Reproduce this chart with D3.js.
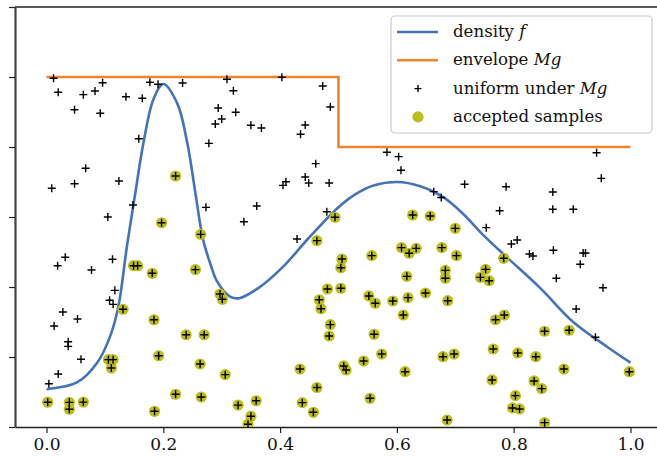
<!DOCTYPE html>
<html>
<head>
<meta charset="utf-8">
<script src="https://cdn.jsdelivr.net/npm/d3@7"></script>
<style>
  body { margin: 0; background: white; }
  svg { display: block; }
</style>
</head>
<body>
<svg id="graph"></svg>
<script>
"use strict";

// densite f
var density_x = [0, 0.053, 0.087, 0.110, 0.123, 0.138, 0.152, 0.166, 0.183, 0.200, 0.224, 0.241, 0.255, 0.268, 0.281, 0.292, 0.315, 0.330, 0.362, 0.404, 0.449, 0.500, 0.530, 0.560, 0.600, 0.640, 0.680, 0.714, 0.748, 0.789, 0.846, 0.902, 0.961, 1.0];
var density_y = [0.27, 0.32, 0.46, 0.66, 0.86, 1.30, 1.67, 2.03, 2.34, 2.45, 2.31, 2.03, 1.67, 1.34, 1.16, 1.04, 0.93, 0.92, 0.99, 1.14, 1.35, 1.57, 1.665, 1.725, 1.75, 1.72, 1.64, 1.52, 1.37, 1.21, 0.99, 0.75, 0.57, 0.46];

// enveloppe Mg (en escalier)
var envelope_x = [0, 0.5, 0.5, 1.0];
var envelope_y = [2.5, 2.5, 2.0, 2.0];

// points uniformes rejetes
var rejected_x = [0.012, 0.020, 0.063, 0.083, 0.096, 0.048, 0.092, 0.136, 0.164, 0.177, 0.191, 0.233, 0.309, 0.294, 0.300, 0.289, 0.278, 0.158, 0.067, 0.048, 0.009, 0.124, 0.148, 0.105, 0.273,
  0.320, 0.324, 0.350, 0.368, 0.403, 0.473, 0.486, 0.443, 0.435, 0.461, 0.443, 0.449, 0.484, 0.410, 0.405, 0.360, 0.338, 0.480, 0.583, 0.603, 0.607, 0.663, 0.676, 0.429,
  0.942, 0.950, 0.716, 0.787, 0.867, 0.776, 0.867, 0.902, 0.753, 0.796, 0.806, 0.827, 0.833, 0.868, 0.919, 0.923, 0.914, 0.873, 0.953, 0.907, 0.940,
  0.019, 0.032, 0.077, 0.113, 0.117, 0.108, 0.114, 0.028, 0.053, 0.013, 0.037, 0.037, 0.059, 0.020, 0.004];
var rejected_y = [2.491, 2.391, 2.374, 2.400, 2.459, 2.266, 2.241, 2.359, 2.348, 2.462, 2.448, 2.457, 2.484, 2.279, 2.200, 2.164, 2.026, 2.059, 1.848, 1.738, 1.705, 1.757, 1.586, 1.500, 1.569,
  2.402, 2.248, 2.155, 2.136, 2.498, 2.436, 2.286, 2.157, 2.091, 1.881, 1.786, 1.743, 1.743, 1.752, 1.726, 1.579, 1.466, 1.538, 1.962, 1.931, 1.834, 1.681, 1.639, 1.343,
  1.959, 1.776, 1.734, 1.716, 1.679, 1.545, 1.555, 1.555, 1.424, 1.307, 1.336, 1.236, 1.221, 1.262, 1.243, 1.243, 1.162, 1.062, 0.995, 0.843, 0.641,
  1.152, 1.212, 1.121, 1.198, 0.976, 0.905, 0.876, 0.821, 0.771, 0.721, 0.609, 0.576, 0.484, 0.379, 0.309];

// echantillons acceptes
var accepted_x = [0.221, 0.197, 0.264, 0.494, 0.627, 0.657, 0.463, 0.700, 0.677, 0.702, 0.783, 0.683, 0.683, 0.752, 0.743, 0.758, 0.687, 0.769, 0.784, 0.853, 0.895, 0.765, 0.807, 0.838,
  0.679, 0.698, 0.886, 0.998, 0.763, 0.835, 0.848, 0.803, 0.798, 0.810, 0.686, 0.853, 0.149, 0.156, 0.181, 0.255, 0.131, 0.184, 0.297, 0.301, 0.239, 0.270, 0.192,
  0.106, 0.114, 0.111, 0.263, 0.306, 0.221, 0.265, 0.002, 0.039, 0.039, 0.063, 0.185, 0.506, 0.504, 0.557, 0.608, 0.621, 0.633, 0.617, 0.481, 0.504, 0.467, 0.470,
  0.552, 0.563, 0.593, 0.619, 0.649, 0.611, 0.486, 0.484, 0.561, 0.574, 0.543, 0.509, 0.513, 0.614, 0.434, 0.463, 0.438, 0.457, 0.359, 0.328, 0.350, 0.345, 0.554];
var accepted_y = [1.793, 1.459, 1.376, 1.498, 1.514, 1.507, 1.331, 1.419, 1.281, 1.224, 1.205, 1.119, 1.062, 1.126, 1.069, 1.045, 0.902, 0.766, 0.800, 0.684, 0.691, 0.557, 0.529, 0.502,
  0.502, 0.521, 0.414, 0.395, 0.336, 0.329, 0.274, 0.224, 0.136, 0.129, 0.050, 0.031, 1.152, 1.152, 1.098, 1.124, 0.841, 0.766, 0.950, 0.912, 0.659, 0.659, 0.509,
  0.481, 0.481, 0.421, 0.450, 0.374, 0.234, 0.214, 0.177, 0.176, 0.127, 0.178, 0.112, 1.200, 1.138, 1.224, 1.281, 1.241, 1.276, 1.076, 0.986, 0.991, 0.909, 0.845,
  0.936, 0.884, 0.900, 0.924, 0.957, 0.800, 0.731, 0.650, 0.662, 0.521, 0.471, 0.436, 0.407, 0.395, 0.414, 0.282, 0.174, 0.105, 0.187, 0.156, 0.077, 0.020, 0.205];

var x_ticks = [0, 0.2, 0.4, 0.6, 0.8, 1.0];
var y_ticks = [0, 0.5, 1.0, 1.5, 2.0, 2.5, 3.0];

var legend_labels = [["density ", "f"], ["envelope ", "Mg"], ["uniform under ", "Mg"], ["accepted samples", ""]];

var BLUE = "#4673b3", ORANGE = "#ee8430", OLIVE = "#bcbd22";
var FONT = "'DejaVu Serif', serif";

var zip = function(xs, ys) {
  return xs.map(function(x, i) { return {x: x, y: ys[i]}; });
};

var svg = d3.select("#graph").attr("width", 657).attr("height", 457);
svg.margin = {top: 7, left: 15, bottom: 30, right: -5};

var x = d3.scaleLinear().domain([-0.054, 1.054]).range([svg.margin.left, 662]);
var y = d3.scaleLinear().domain([0, 3]).range([427, svg.margin.top]);

// axes
svg.append("g")
  .attr("transform", "translate(0," + y(0) + ")")
  .call(d3.axisBottom(x).tickValues(x_ticks).tickFormat(d3.format(".1f")).tickSize(6).tickPadding(5).tickSizeOuter(0))
  .call(function(g) {
    g.attr("font-family", FONT).attr("font-size", 17);
    g.select(".domain").attr("stroke", "#222").attr("stroke-width", 1.5);
    g.selectAll(".tick line").attr("stroke", "#222").attr("stroke-width", 1.2);
    g.selectAll("text").attr("fill", "#111");
  });

svg.append("g")
  .attr("transform", "translate(" + x.range()[0] + ",0)")
  .call(d3.axisLeft(y).tickValues(y_ticks).tickFormat("").tickSize(6).tickSizeOuter(0))
  .call(function(g) {
    g.select(".domain").attr("stroke", "#444").attr("stroke-width", 2.2);
    g.selectAll(".tick line").attr("stroke", "#222").attr("stroke-width", 1.2);
  });

// cadre du haut
svg.append("line")
  .attr("x1", x.range()[0]).attr("x2", x.range()[1])
  .attr("y1", y(3)).attr("y2", y(3))
  .attr("stroke", "#222").attr("stroke-width", 1.5);

svg.append("clipPath").attr("id", "clip").append("rect")
  .attr("x", x.range()[0]).attr("y", y(3))
  .attr("width", x.range()[1] - x.range()[0]).attr("height", y(0) - y(3));

var plot = svg.append("g").attr("clip-path", "url(#clip)");

plot.append("path")
  .datum(zip(density_x, density_y))
  .attr("fill", "none").attr("stroke", BLUE).attr("stroke-width", 2.6)
  .attr("d", d3.line().x(d => x(d.x)).y(d => y(d.y)).curve(d3.curveCatmullRom.alpha(0.5)));

plot.append("path")
  .datum(zip(envelope_x, envelope_y))
  .attr("fill", "none").attr("stroke", ORANGE).attr("stroke-width", 2.6)
  .attr("d", d3.line().x(d => x(d.x)).y(d => y(d.y)));

plot.append("g").selectAll("circle")
  .data(zip(accepted_x, accepted_y))
  .enter().append("circle")
  .attr("cx", d => x(d.x)).attr("cy", d => y(d.y)).attr("r", 5.6)
  .attr("fill", OLIVE);

var plus = "M-4,0H4M0,-4V4";
plot.append("g").selectAll("path")
  .data(zip(rejected_x, rejected_y).concat(zip(accepted_x, accepted_y)))
  .enter().append("path")
  .attr("transform", d => "translate(" + x(d.x) + "," + y(d.y) + ")")
  .attr("d", plus).attr("stroke", "black").attr("stroke-width", 1.4).attr("fill", "none");

// legende
var leg = svg.append("g").attr("transform", "translate(391,16)");
leg.append("rect")
  .attr("width", 261).attr("height", 117).attr("rx", 4)
  .attr("fill", "white").attr("fill-opacity", 0.85)
  .attr("stroke", "#cccccc").attr("stroke-width", 1.2);

var rows = leg.selectAll("g.row").data(legend_labels).enter().append("g")
  .attr("transform", (d, i) => "translate(0," + (16 + i * 28.3) + ")");

rows.filter((d, i) => i < 2).append("line")
  .attr("x1", 6).attr("x2", 47).attr("y1", 0).attr("y2", 0)
  .attr("stroke", (d, i) => i === 0 ? BLUE : ORANGE).attr("stroke-width", 2.6);
rows.filter((d, i) => i === 2).append("path")
  .attr("transform", "translate(27,0)").attr("d", "M-3.5,0H3.5M0,-3.5V3.5")
  .attr("stroke", "black").attr("stroke-width", 1.4);
rows.filter((d, i) => i === 3).append("circle")
  .attr("cx", 27).attr("r", 5.6).attr("fill", OLIVE);

var txt = rows.append("text")
  .attr("x", 62).attr("y", 5)
  .attr("font-family", FONT).attr("font-size", 16.6).attr("fill", "#111");
txt.append("tspan").text(d => d[0]);
txt.append("tspan").attr("font-style", "italic").text(d => d[1]);
</script>
</body>
</html>
